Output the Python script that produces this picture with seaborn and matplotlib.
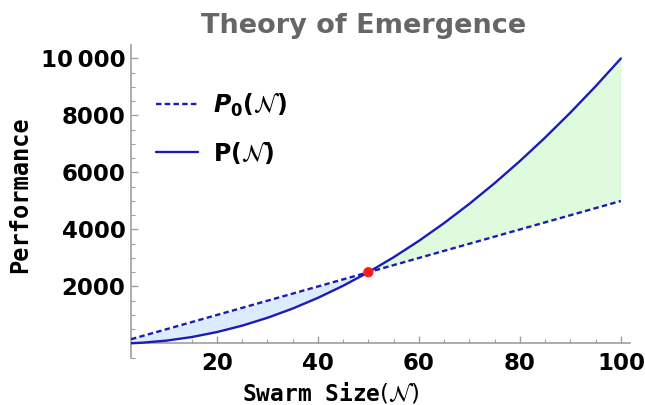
import matplotlib
matplotlib.use("Agg")
import matplotlib.pyplot as plt
from matplotlib.ticker import MultipleLocator, FuncFormatter
from matplotlib.lines import Line2D
import seaborn as sns
import pandas as pd

# Data
swarm_size = [3, 5, 10, 15, 20, 25, 30, 35, 40, 45, 50, 55, 60, 65, 70, 75, 80, 85, 90, 95, 100]
baseline_perf = [150, 250, 500, 750, 1000, 1250, 1500, 1750, 2000, 2250, 2500, 2750, 3000,
                 3250, 3500, 3750, 4000, 4250, 4500, 4750, 5000]
emergent_perf = [9, 25, 100, 225, 400, 625, 900, 1225, 1600, 2025, 2500, 3025, 3600,
                 4225, 4900, 5625, 6400, 7225, 8100, 9025, 10000]
crossing_x = [50]
crossing_y = [2500]
x_ticks = [20, 40, 60, 80, 100]
y_ticks = [2000, 4000, 6000, 8000, 10000]

df = pd.DataFrame({"N": swarm_size, "P0": baseline_perf, "P": emergent_perf})

sns.set_style("white")
plt.rcParams["font.family"] = ["DejaVu Sans"]
plt.rcParams["mathtext.fontset"] = "dejavusans"

LINE = "#1c1cb4"
DASH = (0, (2.3, 1.4))
fig = plt.figure(figsize=(6.45, 4.05), dpi=100)
ax = fig.add_axes([0.2031, 0.1167, 0.7736, 0.7727])

ax.fill_between(df["N"], df["P0"], df["P"], where=df["P0"] >= df["P"], interpolate=True,
                color="#dcebfd", linewidth=0, zorder=1)
ax.fill_between(df["N"], df["P0"], df["P"], where=df["P"] >= df["P0"], interpolate=True,
                color="#defbde", linewidth=0, zorder=1)
sns.lineplot(data=df, x="N", y="P0", ax=ax, color=LINE, linewidth=1.7,
             linestyle=DASH, zorder=3)
sns.lineplot(data=df, x="N", y="P", ax=ax, color=LINE, linewidth=1.7, zorder=3)
sns.scatterplot(x=crossing_x, y=crossing_y, ax=ax, color="#ff1a1a", s=55,
                edgecolor="none", zorder=5)

ax.set_xlim(3, 101.8)
ax.set_ylim(-500, 10480)
for s in ["top", "right"]:
    ax.spines[s].set_visible(False)
ax.spines["bottom"].set_position(("data", 0))
for s in ["left", "bottom"]:
    ax.spines[s].set_color("#a0a0a0")
    ax.spines[s].set_linewidth(1.2)

ax.set_xticks(x_ticks)
ax.set_yticks(y_ticks)
ax.xaxis.set_minor_locator(MultipleLocator(5))
ax.yaxis.set_minor_locator(MultipleLocator(500))
ax.yaxis.set_major_formatter(FuncFormatter(
    lambda v, p: f"{int(v):,}".replace(",", "\u2009") if v >= 10000 else f"{int(v)}"))
ax.tick_params(axis="both", which="both", bottom=True, left=True, direction="in",
               color="#a0a0a0", labelcolor="black")
ax.tick_params(axis="both", which="major", length=5, width=1, labelsize=16.5)
ax.tick_params(axis="x", which="major", pad=6)
ax.tick_params(axis="y", which="major", pad=4)
ax.tick_params(axis="both", which="minor", length=3, width=0.8)
for lab in ax.get_xticklabels() + ax.get_yticklabels():
    lab.set_fontweight("bold")

ax.set_xlabel("")
ax.set_ylabel("")
fig.text(0.512, 0.03, r"Swarm Size$(\mathcal{N})$", family="DejaVu Sans Mono",
         fontweight="bold", fontsize=16.5, ha="center", va="center", color="black")
fig.text(0.031, 0.52, "Performance", family="DejaVu Sans Mono", fontweight="bold",
         fontsize=17, rotation=90, ha="center", va="center", color="black")
fig.text(0.563, 0.935, "Theory of Emergence", color="#666666", fontweight="bold",
         fontsize=19.5, ha="center", va="center")

handles = [Line2D([], [], color=LINE, linewidth=1.7, linestyle=DASH),
           Line2D([], [], color=LINE, linewidth=1.7)]
labels = [r"$\mathbfit{P}_{\mathbf{0}}\mathbf{(}\mathcal{N}\mathbf{)}$",
          r"$\mathbf{P(}\mathcal{N}\mathbf{)}$"]
leg = ax.legend(handles, labels, loc="upper left", bbox_to_anchor=(0.008, 0.922),
                frameon=False, fontsize=17, handlelength=1.75, handletextpad=0.65,
                labelspacing=0.85)
for t in leg.get_texts():
    t.set_color("black")

fig.savefig("out.png", dpi=100)
